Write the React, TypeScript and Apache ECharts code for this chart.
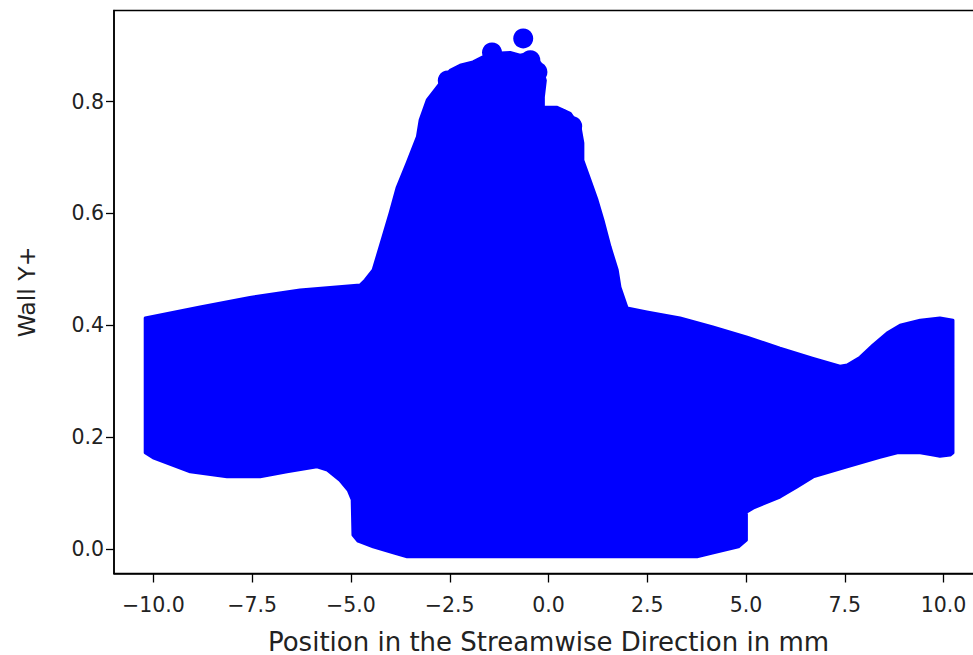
import React, { useEffect, useRef } from "react";
import * as echarts from "echarts";

// Upper envelope of the Wall Y+ cloud, left to right: [position mm, Wall Y+]
const upperEdge: [number, number][] = [
  [-10.21, 0.413], [-8.82, 0.433], [-7.56, 0.45], [-6.29, 0.463], [-4.77, 0.472],
  [-4.64, 0.481], [-4.44, 0.499], [-4.19, 0.558], [-4.01, 0.601], [-3.83, 0.647],
  [-3.58, 0.69], [-3.32, 0.737], [-3.25, 0.767], [-3.07, 0.803], [-2.82, 0.826],
  [-2.49, 0.856], [-2.24, 0.865], [-1.91, 0.871], [-1.66, 0.88], [-1.22, 0.887],
  [-0.97, 0.888], [-0.72, 0.883], [-0.46, 0.887], [-0.21, 0.869], [-0.08, 0.838],
  [-0.13, 0.808], [-0.13, 0.79], [0.22, 0.79], [0.55, 0.779], [0.8, 0.754],
  [0.87, 0.726], [0.87, 0.695], [1.05, 0.66], [1.23, 0.624], [1.38, 0.588],
  [1.56, 0.54], [1.74, 0.499], [1.81, 0.468], [1.99, 0.431], [2.49, 0.424],
  [3.33, 0.413], [4.16, 0.397], [5.03, 0.379], [5.86, 0.359], [6.7, 0.341],
  [7.38, 0.327], [7.56, 0.329], [7.89, 0.343], [8.22, 0.365], [8.57, 0.386],
  [8.9, 0.4], [9.41, 0.409], [9.91, 0.413], [10.24, 0.409],
];

// Lower envelope of the cloud, right to left
const lowerEdge: [number, number][] = [
  [10.24, 0.172], [10.17, 0.168], [9.91, 0.166], [9.74, 0.168], [9.41, 0.172],
  [8.83, 0.172], [8.39, 0.164], [7.56, 0.147], [6.7, 0.129], [6.29, 0.111],
  [5.86, 0.093], [5.18, 0.073], [5.01, 0.066], [5.01, 0.016], [4.81, 0.004],
  [4.15, -0.007], [3.76, -0.014], [-3.58, -0.014], [-3.93, -0.007], [-4.44, 0.004],
  [-4.82, 0.014], [-4.95, 0.025], [-4.97, 0.088], [-5.07, 0.105], [-5.28, 0.123],
  [-5.6, 0.141], [-5.86, 0.147], [-6.62, 0.138], [-7.3, 0.129], [-8.14, 0.129],
  [-9.07, 0.138], [-10.01, 0.163], [-10.21, 0.172],
];

// Individual points along the top of the peak (drawn as discs)
const peakPoints: [number, number][] = [
  [-1.43, 0.888],
  [-0.64, 0.913],
  [-2.55, 0.838],
  [-1.98, 0.853],
  [-1.1, 0.871],
  [-0.46, 0.874],
  [-0.28, 0.853],
  [0.3, 0.77],
  [0.6, 0.756],
];

const xTicks = [-10, -7.5, -5, -2.5, 0, 2.5, 5, 7.5, 10];
const yTicks = [0, 0.2, 0.4, 0.6, 0.8];

const xTitle = "Position in the Streamwise Direction in mm";
const yTitle = "Wall Y+";

const BLUE = "#0000ff";
const FONT = "DejaVu Sans";
const TEXT = "#222";

const fmt = (v: number) => {
  const s = Math.abs(v).toFixed(1);
  return v < 0 ? "\u2212" + s : s;
};

export default function App() {
  const ref = useRef<HTMLDivElement>(null);

  useEffect(() => {
    if (!ref.current) return;
    const chart = echarts.init(ref.current, undefined, { renderer: "svg" });
    const outline = [...upperEdge, ...lowerEdge];

    const axisLine = { show: true, onZero: false, lineStyle: { color: "#000", width: 1.5 } };
    const tickStyle = { color: "#000", width: 1.3 };

    chart.setOption({
      animation: false,
      backgroundColor: "#ffffff",
      grid: {
        left: 114,
        right: 7,
        top: 10.5,
        bottom: 81.5,
        outerBoundsMode: "none",
        containLabel: false,
        show: true,
        borderColor: "#000",
        borderWidth: 1.5,
        backgroundColor: "transparent",
      },
      xAxis: {
        type: "value",
        min: -11,
        max: 11,
        name: xTitle,
        nameLocation: "middle",
        nameGap: 55,
        nameTextStyle: { fontFamily: FONT, fontSize: 26, color: TEXT },
        axisLine,
        axisTick: { show: true, length: 9, lineStyle: tickStyle, customValues: xTicks },
        axisLabel: {
          fontFamily: FONT,
          fontSize: 20.5,
          color: TEXT,
          margin: 21,
          customValues: xTicks,
          formatter: (v: number) => fmt(v),
        },
        splitLine: { show: false },
      },
      yAxis: {
        type: "value",
        min: -0.0438,
        max: 0.963,
        name: yTitle,
        nameLocation: "middle",
        nameRotate: 90,
        nameGap: 75,
        nameTextStyle: { fontFamily: FONT, fontSize: 23.5, color: TEXT },
        axisLine,
        axisTick: { show: true, length: 8, lineStyle: tickStyle, customValues: yTicks },
        axisLabel: {
          fontFamily: FONT,
          fontSize: 20.5,
          color: TEXT,
          margin: 10,
          customValues: yTicks,
          formatter: (v: number) => fmt(v),
        },
        splitLine: { show: false },
      },
      series: [
        {
          type: "custom",
          coordinateSystem: "cartesian2d",
          data: [[0, 0.4]],
          renderItem: (_params: any, api: any) => ({
            type: "polygon",
            shape: { points: outline.map((p) => api.coord(p)) },
            style: {
              fill: BLUE,
              stroke: BLUE,
              lineWidth: 3,
              lineJoin: "round",
            },
          }),
          silent: true,
        },
        {
          type: "scatter",
          data: peakPoints,
          symbol: "circle",
          symbolSize: 20,
          itemStyle: { color: BLUE, opacity: 1 },
          silent: true,
        },
      ],
    });

    return () => chart.dispose();
  }, []);

  return (
    <div
      style={{
        position: "fixed",
        left: 0,
        top: 0,
        width: 973,
        height: 655,
        overflow: "hidden",
        background: "#fff",
      }}
    >
      <div ref={ref} style={{ width: 990, height: 655 }} />
    </div>
  );
}
